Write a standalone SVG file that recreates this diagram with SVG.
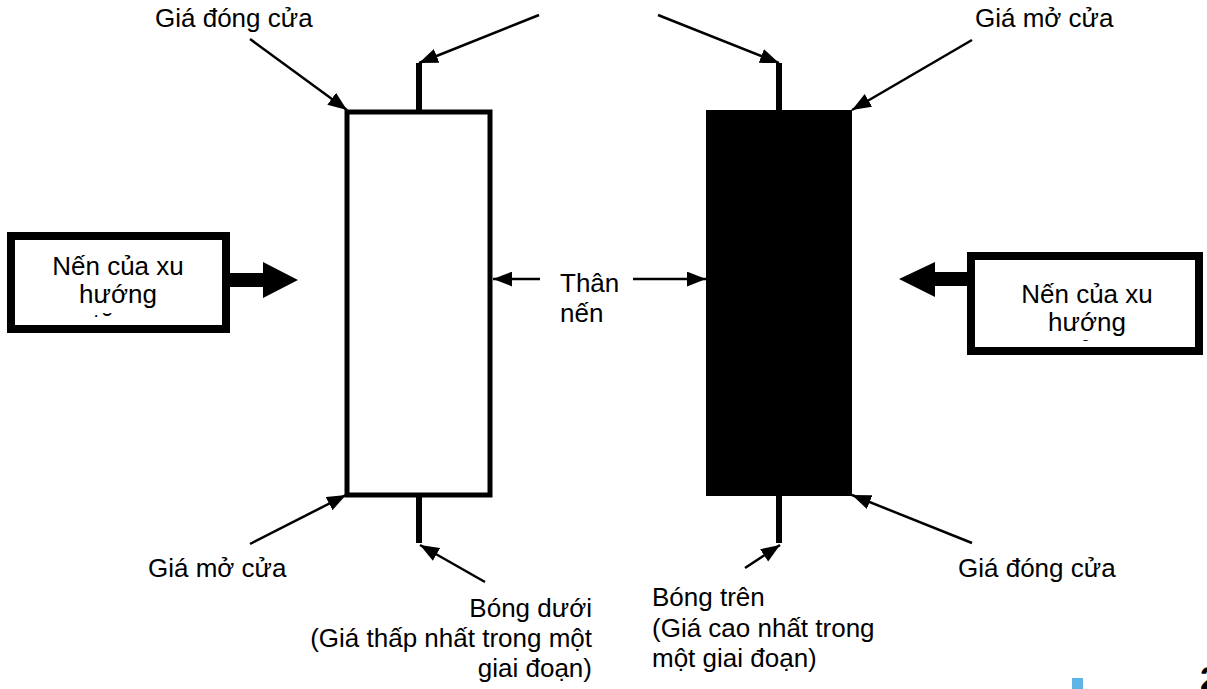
<svg xmlns="http://www.w3.org/2000/svg" width="1207" height="689" viewBox="0 0 1207 689">
<style>
text{font-family:"Liberation Sans",Arial,sans-serif;font-size:26px;fill:#000}
.c{text-anchor:middle}
.e{text-anchor:end}
.thin{stroke:#000;stroke-width:2.5;fill:none;marker-end:url(#ah)}
.box{fill:#fff;stroke:#000;stroke-width:8}
.wick{stroke:#000;stroke-width:6;fill:none}
</style>
<defs>
<marker id="ah" viewBox="0 0 18 14" refX="18" refY="7" markerWidth="19" markerHeight="15" markerUnits="userSpaceOnUse" orient="auto">
<path d="M0,0 L18,7 L0,14 z" fill="#000"/>
</marker>
<clipPath id="clipL"><rect x="15" y="240" width="207" height="77"/></clipPath>
<clipPath id="clipR"><rect x="975" y="260" width="220" height="81"/></clipPath>
</defs>
<rect width="1207" height="689" fill="#fff"/>

<g id="candle-white">
<line class="wick" x1="419" y1="63" x2="419" y2="112"/>
<line class="wick" x1="419" y1="495" x2="419" y2="543"/>
<rect x="347" y="112" width="143" height="383" fill="#fff" stroke="#000" stroke-width="5"/>
</g>

<g id="candle-black">
<line class="wick" x1="779" y1="63" x2="779" y2="112"/>
<line class="wick" x1="779" y1="495" x2="779" y2="543"/>
<rect x="706" y="110" width="146" height="386" fill="#000"/>
</g>

<g id="box-left">
<rect class="box" x="11" y="236" width="215" height="93"/>
<g clip-path="url(#clipL)">
<text class="c" x="118" y="275">Nến của xu</text>
<text class="c" x="118" y="303">hướng</text>
<text class="c" x="118" y="332">tăng</text>
</g>
</g>

<g id="box-right">
<rect class="box" x="971" y="256" width="228" height="95"/>
<g clip-path="url(#clipR)">
<text class="c" x="1087" y="303">Nến của xu</text>
<text class="c" x="1087" y="331">hướng</text>
<text class="c" x="1087" y="360">giảm</text>
</g>
</g>

<g id="labels">
<text x="155" y="27">Giá đóng cửa</text>
<text x="975" y="27">Giá mở cửa</text>
<text x="148" y="577">Giá mở cửa</text>
<text x="958" y="577">Giá đóng cửa</text>
<text x="560" y="292">Thân</text>
<text x="560" y="322">nến</text>
<text class="e" x="592" y="617">Bóng dưới</text>
<text class="e" x="592" y="647">(Giá thấp nhất trong một</text>
<text class="e" x="592" y="677">giai đoạn)</text>
<text x="652" y="606">Bóng trên</text>
<text x="652" y="637">(Giá cao nhất trong</text>
<text x="652" y="667">một giai đoạn)</text>
<text x="1200" y="690" style="font-weight:bold;font-size:34px">2</text>
</g>

<g id="connectors">
<line class="thin" x1="250" y1="39" x2="347" y2="110"/>
<line class="thin" x1="539" y1="15" x2="419" y2="63"/>
<line class="thin" x1="658" y1="15" x2="779" y2="63"/>
<line class="thin" x1="972" y1="40" x2="852" y2="110"/>
<line class="thin" x1="250" y1="544" x2="346" y2="495"/>
<line class="thin" x1="485" y1="582" x2="420" y2="545"/>
<line class="thin" x1="745" y1="568" x2="780" y2="545"/>
<line class="thin" x1="972" y1="543" x2="852" y2="495"/>
<line class="thin" x1="540" y1="279" x2="493" y2="279"/>
<line class="thin" x1="633" y1="279" x2="706" y2="279"/>
<path d="M226,273 H263 V262 L298,280 L263,298 V287 H226 z" fill="#000"/>
<path d="M971,272 H935 V262 L899,279 L935,297 V286 H971 z" fill="#000"/>
</g>

<rect x="1072" y="678" width="11" height="11" fill="#5fb3e6"/>
</svg>
